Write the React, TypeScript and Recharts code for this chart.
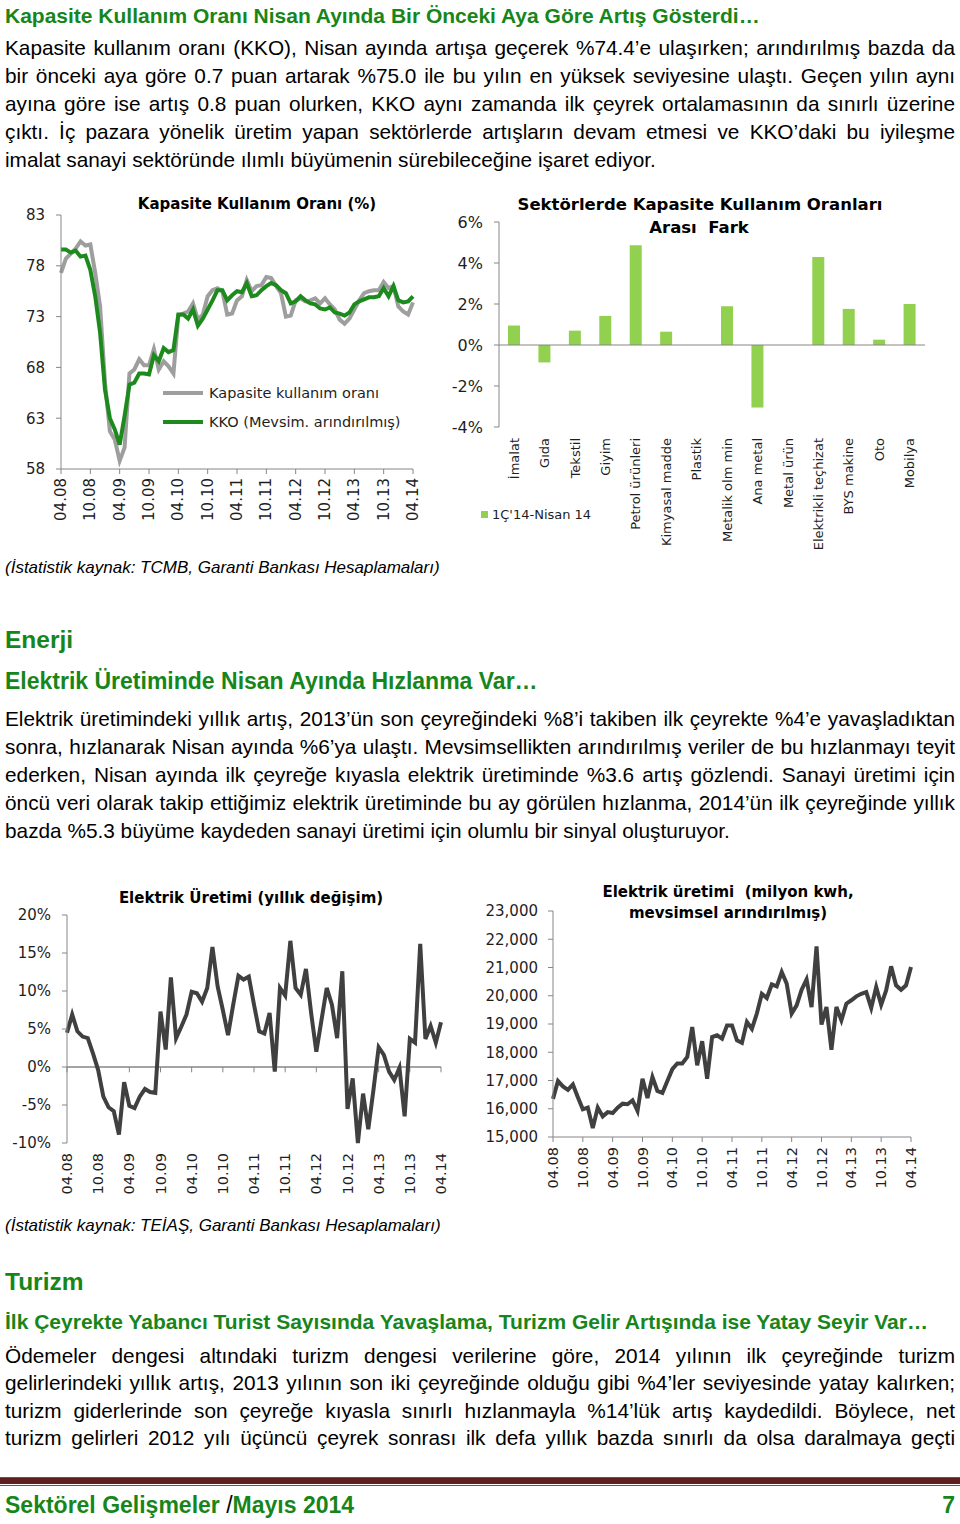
import React from 'react';
import { LineChart, Line, BarChart, Bar, XAxis, YAxis, ReferenceLine, Legend } from 'recharts';

const GREEN = '#17861a';
const AXIS = '#868686';
const INK = '#1e1e1e';
const CHART_FONT = '"DejaVu Sans", Verdana, sans-serif';
const TEXT_FONT = '"Liberation Sans", Arial, Helvetica, sans-serif';

// half-year tick labels, shared by the three monthly charts (04.08 ... 04.14)
const halfYearTicks = ['04.08', '10.08', '04.09', '10.09', '04.10', '10.10', '04.11', '10.11', '04.12', '10.12', '04.13', '10.13', '04.14'];
const tickIdx = halfYearTicks.map((_, k) => k * 6);
const tickLabelOf: Record<number, string> = Object.fromEntries(tickIdx.map((t, k) => [t, halfYearTicks[k]]));

// Kapasite kullanım oranı, monthly 04.08 - 04.14
const kkoRaw = [
  77.3, 78.7, 79.2, 79.7, 80.4, 80.0, 80.1, 77.3, 74.0, 66.5,
  61.7, 60.9, 58.8, 60.1, 67.4, 67.8, 68.8, 68.2, 68.2, 69.8,
  67.8, 68.6, 68.1, 67.4, 73.1, 73.3, 73.5, 74.3, 72.7, 73.2,
  75.0, 75.6, 75.8, 75.5, 73.2, 73.3, 74.6, 75.0, 76.6, 75.5,
  76.0, 76.1, 76.9, 76.8, 76.0, 75.3, 73.0, 73.1, 74.6, 74.8,
  74.5, 74.6, 74.8, 74.3, 74.8, 74.2, 73.7, 72.7, 72.3, 72.8,
  73.7, 74.6, 75.3, 75.5, 75.6, 75.6, 76.4, 75.8, 76.0, 74.0,
  73.5, 73.2, 74.4,
];
const kkoSa = [
  79.6, 79.6, 79.3, 79.5, 78.9, 79.0, 77.6, 75.0, 71.4, 65.8,
  63.0, 61.9, 60.4, 63.2, 66.3, 66.5, 67.4, 67.4, 67.3, 69.2,
  68.6, 69.9, 69.5, 69.7, 73.2, 73.2, 72.8, 73.7, 72.1, 72.8,
  73.7, 74.6, 75.6, 75.6, 74.6, 75.1, 75.5, 75.4, 76.3, 75.0,
  75.1, 75.6, 76.0, 76.3, 76.1, 75.6, 75.3, 74.3, 74.5, 75.0,
  74.6, 74.3, 74.2, 73.8, 73.7, 73.9, 73.4, 73.3, 73.1, 73.4,
  74.2, 74.5, 74.7, 74.9, 74.9, 75.0, 75.8, 75.0, 76.0, 74.6,
  74.4, 74.5, 75.0,
];

// Sektörlerde KKO farkı (1Ç'14 - Nisan 14), %
const sectors = ['İmalat', 'Gıda', 'Tekstil', 'Giyim', 'Petrol ürünleri', 'Kimyasal madde', 'Plastik', 'Metalik olm min', 'Ana metal', 'Metal ürün', 'Elektrikli teçhizat', 'BYS makine', 'Oto', 'Mobilya'];
const sectorGap = [0.95, -0.85, 0.7, 1.42, 4.86, 0.65, 0, 1.89, -3.05, 0, 4.29, 1.76, 0.26, 2.0];

// Elektrik üretimi, yıllık değişim %
const elecYoy = [
  4.5, 6.9, 4.7, 4.0, 3.8, 1.8, -0.4, -3.9, -5.3, -5.8,
  -8.9, -2.0, -5.1, -5.4, -3.9, -2.9, -3.3, -3.4, 7.3, 2.3,
  11.8, 3.8, 5.3, 6.9, 9.9, 9.7, 8.6, 10.4, 15.8, 10.6,
  7.5, 4.2, 8.2, 12.0, 11.5, 11.9, 8.2, 4.7, 4.4, 7.1,
  -0.6, 10.4, 9.4, 16.6, 10.4, 9.5, 12.9, 7.1, 2.0, 6.2,
  10.4, 8.2, 3.8, 12.6, -5.5, -1.5, -10.0, -3.5, -8.2, -3.0,
  2.6, 1.6, -0.6, -1.7, -0.1, -6.5, 3.7, 3.2, 16.2, 3.7,
  5.4, 3.2, 5.9,
];

// Elektrik üretimi, milyon kwh (mevsimsel arındırılmış)
const elecLevel = [
  16350, 16980, 16790, 16670, 16860, 16410, 15980, 16040, 15320, 16040,
  15730, 15880, 15850, 16040, 16180, 16160, 16300, 15920, 17060, 16380,
  17120, 16630, 16560, 16980, 17400, 17600, 17600, 17830, 18890, 17540,
  18390, 17060, 18540, 18600, 18480, 18950, 18950, 18420, 18330, 19070,
  18830, 19370, 20070, 19920, 20400, 20330, 20840, 20430, 19370, 19660,
  20210, 20580, 19600, 21750, 18980, 19600, 18090, 19600, 19130, 19720,
  19840, 19980, 20070, 20130, 19570, 20310, 19680, 20190, 21040, 20370,
  20210, 20370, 21020,
];

const kkoData = kkoRaw.map((v, i) => ({ i, raw: v, sa: kkoSa[i] }));
const sectorData = sectors.map((name, k) => ({ name, gap: sectorGap[k] }));
const yoyData = elecYoy.map((v, i) => ({ i, yoy: v }));
const levelData = elecLevel.map((v, i) => ({ i, level: v }));

function VTick(props: any) {
  const { x, y, payload, fontSize = 15, label } = props;
  const text = label !== undefined ? label : payload.value;
  return (
    <text transform={`translate(${x},${y}) rotate(-90)`} textAnchor="end" dominantBaseline="central"
      fontSize={fontSize} fontFamily={CHART_FONT} fill={INK}>
      {text}
    </text>
  );
}

const monthTick = (size: number) => (p: any) => <VTick {...p} fontSize={size} label={tickLabelOf[p.payload.value]} />;

const yTick = (size: number) => ({ fontSize: size, fill: INK, fontFamily: CHART_FONT });

const TextRow = ({ y, justify = true, children, style }: any) => (
  <div style={{
    position: 'absolute', left: 5, width: 950, top: y - 14, height: 28, lineHeight: '28px',
    whiteSpace: 'nowrap', fontSize: 20.8, color: '#000',
    textAlign: justify ? 'justify' : 'left', textAlignLast: justify ? 'justify' : 'left', ...style,
  }}>{children}</div>
);

const Title = ({ x, y, size = 15, children }: any) => (
  <div style={{
    position: 'absolute', left: x - 250, width: 500, top: y - 11, lineHeight: '22px', textAlign: 'center',
    fontFamily: CHART_FONT, fontWeight: 'bold', fontSize: size, color: '#000', whiteSpace: 'nowrap',
  }}>{children}</div>
);

const heading = { color: GREEN, fontWeight: 'bold' as const };

export default function App() {
  return (
    <div style={{ position: 'absolute', left: 0, top: 0, width: 960, height: 1524, background: '#fff', fontFamily: TEXT_FONT, overflow: 'hidden' }}>
      <TextRow y={16} justify={false} style={{ ...heading, fontSize: 21 }}>Kapasite Kullanım Oranı Nisan Ayında Bir Önceki Aya Göre Artış Gösterdi…</TextRow>
      <TextRow y={48}>Kapasite kullanım oranı (KKO), Nisan ayında artışa geçerek %74.4’e ulaşırken; arındırılmış bazda da</TextRow>
      <TextRow y={76}>bir önceki aya göre 0.7 puan artarak %75.0 ile bu yılın en yüksek seviyesine ulaştı. Geçen yılın aynı</TextRow>
      <TextRow y={104}>ayına göre ise artış 0.8 puan olurken, KKO aynı zamanda ilk çeyrek ortalamasının da sınırlı üzerine</TextRow>
      <TextRow y={132}>çıktı. İç pazara yönelik üretim yapan sektörlerde artışların devam etmesi ve KKO’daki bu iyileşme</TextRow>
      <TextRow y={160} justify={false}>imalat sanayi sektöründe ılımlı büyümenin sürebileceğine işaret ediyor.</TextRow>

      {/* KKO line chart */}
      <div style={{ position: 'absolute', left: 0, top: 190 }}>
        <LineChart width={440} height={340} data={kkoData} margin={{ top: 25, right: 27, left: 0, bottom: 0 }}>
          <XAxis dataKey="i" type="number" domain={[0, 72]} ticks={tickIdx} interval={0} height={61}
            stroke={AXIS} tickSize={5} tickMargin={4} tick={monthTick(15)} />
          <YAxis domain={[58, 83]} ticks={[58, 63, 68, 73, 78, 83]} width={61} stroke={AXIS}
            tickSize={5} tickMargin={11} tick={yTick(15)} />
          <Line dataKey="raw" name="Kapasite kullanım oranı" stroke="#9e9e9e" strokeWidth={4} dot={false} isAnimationActive={false} />
          <Line dataKey="sa" name="KKO (Mevsim. arındırılmış)" stroke="#1d8a1d" strokeWidth={4} dot={false} isAnimationActive={false} />
          <Legend layout="vertical" align="center" verticalAlign="middle" itemSorter="dataKey"
            wrapperStyle={{ left: 163, top: 188, width: 270 }}
            content={(p: any) => (
              <div style={{ fontFamily: CHART_FONT, fontSize: 14.5, color: INK }}>
                {[...p.payload]
                  .sort((a: any, b: any) => (a.dataKey === 'raw' ? -1 : 0) - (b.dataKey === 'raw' ? -1 : 0))
                  .map((e: any) => (
                    <div key={e.value} style={{ display: 'flex', alignItems: 'center', height: 29 }}>
                      <span style={{ display: 'inline-block', width: 40, height: 4, background: e.color, marginRight: 6 }} />
                      <span>{e.value}</span>
                    </div>
                  ))}
              </div>
            )} />
        </LineChart>
      </div>
      <Title x={257} y={204} size={15}>Kapasite Kullanım Oranı (%)</Title>

      {/* sector bar chart */}
      <div style={{ position: 'absolute', left: 440, top: 190 }}>
        <BarChart width={520} height={360} data={sectorData} margin={{ top: 32, right: 35, left: 0, bottom: 0 }}>
          <XAxis dataKey="name" interval={0} height={123} axisLine={false} tickLine={false}
            tickSize={0} tickMargin={11} tick={(p: any) => <VTick {...p} fontSize={13} />} />
          <YAxis domain={[-4, 6]} ticks={[-4, -2, 0, 2, 4, 6]} tickFormatter={(v: number) => `${v}%`}
            width={59} stroke={AXIS} tickSize={5} tickMargin={11} tick={yTick(16)} />
          <ReferenceLine y={0} stroke={AXIS} />
          <Bar dataKey="gap" name="1Ç'14-Nisan 14" fill="#92d050" barSize={12} isAnimationActive={false} />
          <Legend layout="vertical" align="center" verticalAlign="middle"
            wrapperStyle={{ left: 41, top: 314, width: 200 }}
            content={(p: any) => (
              <div style={{ fontFamily: CHART_FONT, fontSize: 13, color: INK }}>
                {p.payload.map((e: any) => (
                  <div key={e.value} style={{ display: 'flex', alignItems: 'center', height: 20 }}>
                    <span style={{ display: 'inline-block', width: 7, height: 7, background: e.color, marginRight: 4 }} />
                    <span>{e.value}</span>
                  </div>
                ))}
              </div>
            )} />
        </BarChart>
      </div>
      <Title x={700} y={205} size={16.5}>Sektörlerde Kapasite Kullanım Oranları</Title>
      <Title x={699} y={228} size={16.5}>Arası&nbsp; Fark</Title>

      <TextRow y={568} justify={false} style={{ fontStyle: 'italic', fontSize: 17 }}>(İstatistik kaynak: TCMB, Garanti Bankası Hesaplamaları)</TextRow>

      <TextRow y={640} justify={false} style={{ ...heading, fontSize: 24.5 }}>Enerji</TextRow>
      <TextRow y={681} justify={false} style={{ ...heading, fontSize: 23 }}>Elektrik Üretiminde Nisan Ayında Hızlanma Var…</TextRow>
      <TextRow y={719}>Elektrik üretimindeki yıllık artış, 2013’ün son çeyreğindeki %8’i takiben ilk çeyrekte %4’e yavaşladıktan</TextRow>
      <TextRow y={747}>sonra, hızlanarak Nisan ayında %6’ya ulaştı. Mevsimsellikten arındırılmış veriler de bu hızlanmayı teyit</TextRow>
      <TextRow y={775}>ederken, Nisan ayında ilk çeyreğe kıyasla elektrik üretiminde %3.6 artış gözlendi. Sanayi üretimi için</TextRow>
      <TextRow y={803}>öncü veri olarak takip ettiğimiz elektrik üretiminde bu ay görülen hızlanma, 2014’ün ilk çeyreğinde yıllık</TextRow>
      <TextRow y={831} justify={false}>bazda %5.3 büyüme kaydeden sanayi üretimi için olumlu bir sinyal oluşturuyor.</TextRow>

      {/* electricity yoy */}
      <div style={{ position: 'absolute', left: 0, top: 870 }}>
        <LineChart width={470} height={330} data={yoyData} margin={{ top: 45, right: 29, left: 0, bottom: 0 }}>
          <XAxis dataKey="i" type="number" domain={[0, 72]} ticks={tickIdx} interval={0} height={57}
            axisLine={false} tickLine={false} tickSize={0} tickMargin={10} tick={monthTick(14.5)} />
          <YAxis domain={[-10, 20]} ticks={[-10, -5, 0, 5, 10, 15, 20]} tickFormatter={(v: number) => `${v}%`}
            width={67} stroke={AXIS} tickSize={5} tickMargin={11} tick={yTick(15)} />
          <ReferenceLine y={0} stroke={AXIS} strokeWidth={1.5} />
          {tickIdx.map((t) => (
            <ReferenceLine key={t} segment={[{ x: t, y: 0 }, { x: t, y: -0.7 }]} stroke={AXIS} />
          ))}
          <Line dataKey="yoy" stroke="#404040" strokeWidth={4} dot={false} isAnimationActive={false} />
        </LineChart>
      </div>
      <Title x={251} y={898} size={15}>Elektrik Üretimi (yıllık değişim)</Title>

      {/* electricity level */}
      <div style={{ position: 'absolute', left: 470, top: 870 }}>
        <LineChart width={490} height={330} data={levelData} margin={{ top: 41, right: 49, left: 0, bottom: 0 }}>
          <XAxis dataKey="i" type="number" domain={[0, 72]} ticks={tickIdx} interval={0} height={63}
            stroke={AXIS} tickSize={5} tickMargin={5} tick={monthTick(14.5)} />
          <YAxis domain={[15000, 23000]} ticks={[15000, 16000, 17000, 18000, 19000, 20000, 21000, 22000, 23000]}
            tickFormatter={(v: number) => v.toLocaleString('en-US')}
            width={83} stroke={AXIS} tickSize={5} tickMargin={10} tick={yTick(15)} />
          <Line dataKey="level" stroke="#404040" strokeWidth={4} dot={false} isAnimationActive={false} />
        </LineChart>
      </div>
      <Title x={728} y={892} size={15}>Elektrik üretimi&nbsp; (milyon kwh,</Title>
      <Title x={728} y={913} size={15}>mevsimsel arındırılmış)</Title>

      <TextRow y={1226} justify={false} style={{ fontStyle: 'italic', fontSize: 17 }}>(İstatistik kaynak: TEİAŞ, Garanti Bankası Hesaplamaları)</TextRow>

      <TextRow y={1282} justify={false} style={{ ...heading, fontSize: 24.5 }}>Turizm</TextRow>
      <TextRow y={1322} justify={false} style={{ ...heading, fontSize: 21 }}>İlk Çeyrekte Yabancı Turist Sayısında Yavaşlama, Turizm Gelir Artışında ise Yatay Seyir Var…</TextRow>
      <TextRow y={1356}>Ödemeler dengesi altındaki turizm dengesi verilerine göre, 2014 yılının ilk çeyreğinde turizm</TextRow>
      <TextRow y={1383}>gelirlerindeki yıllık artış, 2013 yılının son iki çeyreğinde olduğu gibi %4’ler seviyesinde yatay kalırken;</TextRow>
      <TextRow y={1411}>turizm giderlerinde son çeyreğe kıyasla sınırlı hızlanmayla %14’lük artış kaydedildi. Böylece, net</TextRow>
      <TextRow y={1438}>turizm gelirleri 2012 yılı üçüncü çeyrek sonrası ilk defa yıllık bazda sınırlı da olsa daralmaya geçti</TextRow>

      {/* footer rules */}
      <div style={{ position: 'absolute', left: 0, top: 1477, width: 960, height: 1, background: '#8a4646' }} />
      <div style={{ position: 'absolute', left: 0, top: 1478, width: 960, height: 6, background: '#5e1f1f' }} />
      <div style={{ position: 'absolute', left: 0, top: 1485, width: 960, height: 1, background: '#8a4646' }} />
      <TextRow y={1505} justify={false} style={{ ...heading, fontSize: 23 }}>
        Sektörel Gelişmeler <span style={{ color: '#000', fontWeight: 'normal' }}>/</span>Mayıs 2014
      </TextRow>
      <div style={{ position: 'absolute', right: 5, top: 1491, lineHeight: '28px', fontSize: 23, fontWeight: 'bold', color: GREEN }}>7</div>
    </div>
  );
}
